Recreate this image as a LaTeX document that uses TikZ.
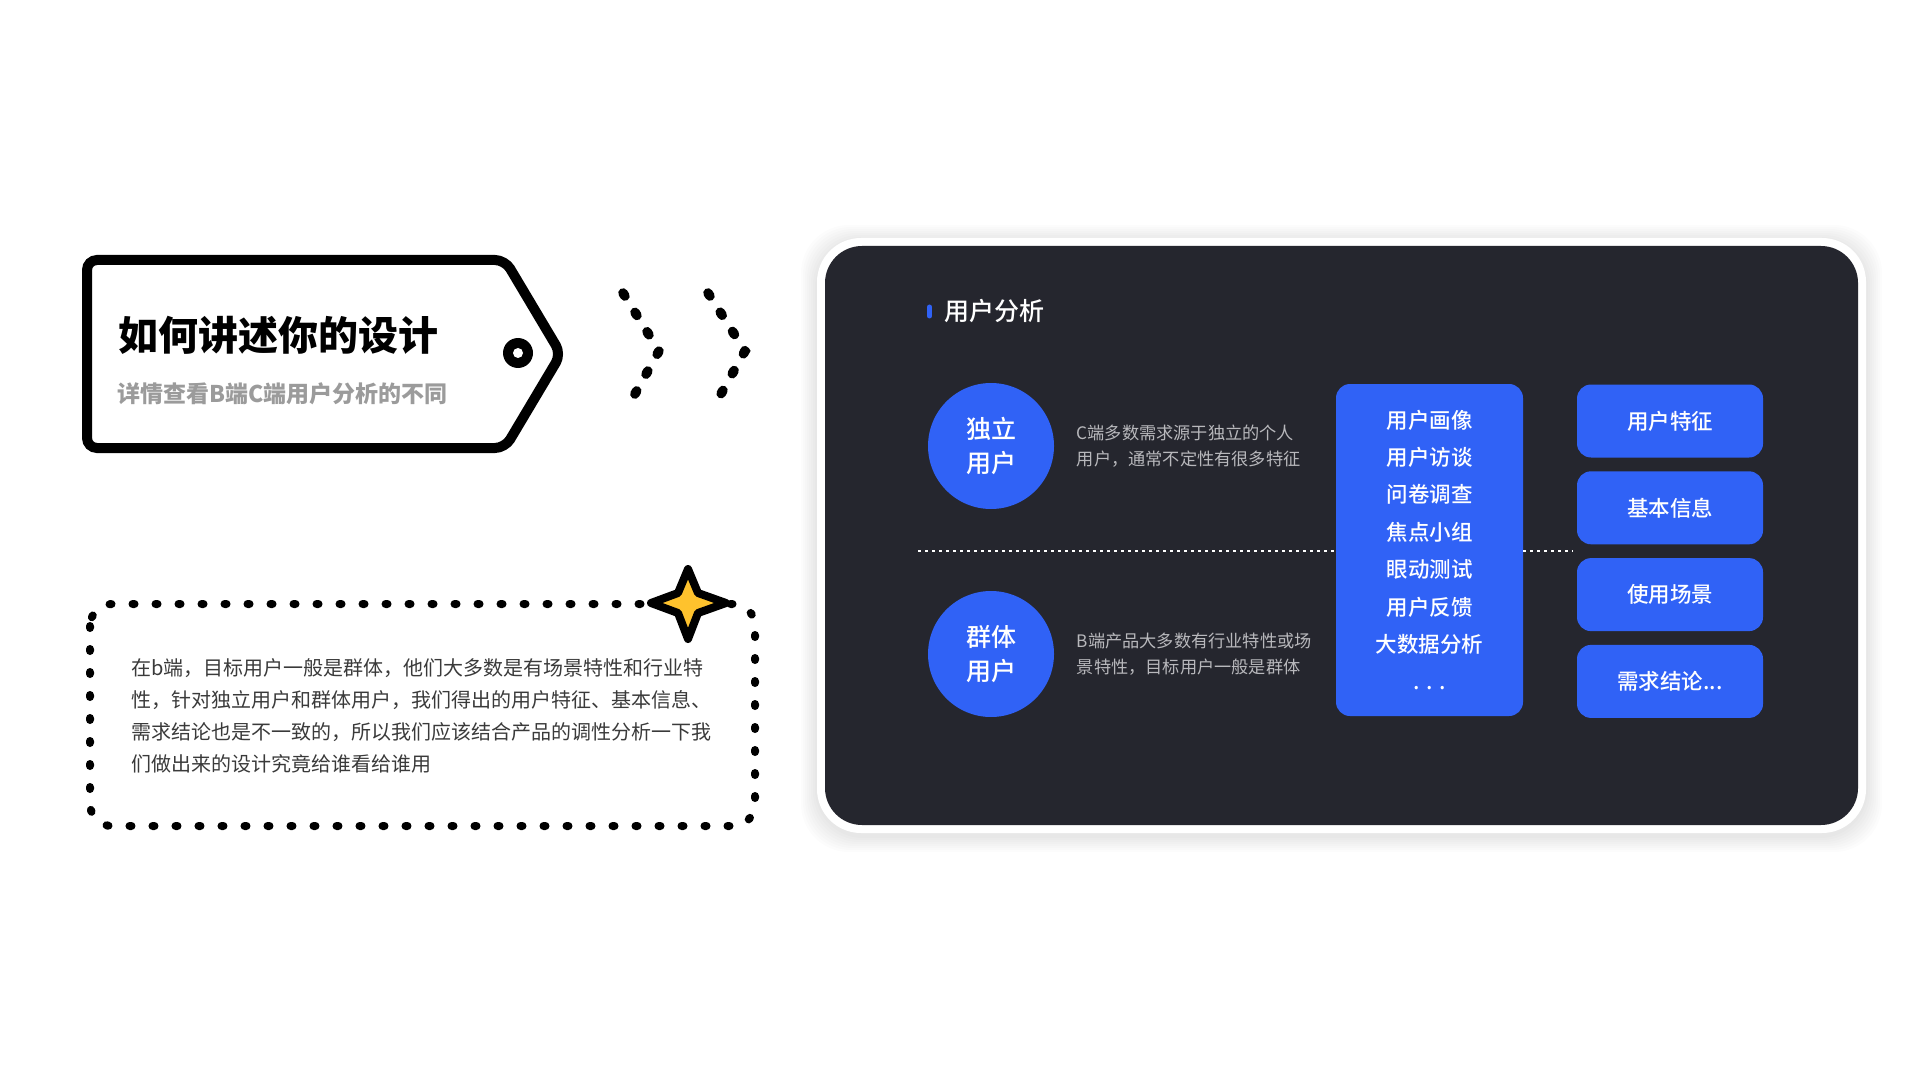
\documentclass[tikz,border=0pt]{standalone}
\usepackage{fontspec}
\setmainfont{Noto Sans CJK SC}
\newfontfamily\medfont{Noto Sans CJK SC Medium}
\usetikzlibrary{positioning}
\definecolor{panelbg}{HTML}{25262E}
\definecolor{brandblue}{HTML}{3062F6}
\definecolor{descgray}{HTML}{B8B8BC}
\definecolor{subgray}{HTML}{9B9B9B}
\definecolor{bodygray}{HTML}{3A3A3A}
\definecolor{staryellow}{HTML}{FEC22D}

\begin{document}
\begin{tikzpicture}[
        x=0.5pt, y=-0.5pt,
        node distance=6.5pt,
        usercirc/.style={circle, fill=brandblue, minimum size=63pt, inner sep=0pt, text=white, align=center, font=\medfont\fontsize{12.5}{17}\selectfont},
        desc/.style={inner sep=0pt, text=descgray, align=left, font=\fontsize{8.6}{13}\selectfont},
        traitbox/.style={fill=brandblue, rounded corners=7pt, minimum width=93pt, minimum height=36.5pt, text=white, font=\medfont\fontsize{10.75}{13}\selectfont},
        divider/.style={white, line width=1pt, dash pattern=on 1.5pt off 2pt},
        dotline/.style={line width=4.8pt, line cap=round, dash pattern=on 1.8pt off 9.6pt}
    ]
    \useasboundingbox (0,0) rectangle (1920,1080);

    % tag on the left
    \draw[line width=5pt, rounded corners=5pt] (87,260) -- (505,260) -- (561,354) -- (505,448) -- (87,448) -- cycle;
    \fill (518,353) circle (7.5pt);
    \fill[white] (518,353) circle (2.5pt);
    \node[anchor=west, inner sep=0pt, font=\bfseries\fontsize{20}{24}\selectfont] (tagtitle) at (118,335) {如何讲述你的设计};
    \node[anchor=west, inner sep=0pt, text=subgray, font=\bfseries\fontsize{11.5}{14}\selectfont] (tagsub) at (117,394) {详情查看B端C端用户分析的不同};

    % chevrons
    \draw[dotline] (623,293) -- (659,351) -- (626,410);
    \draw[dotline] (708,293) -- (745,351) -- (712,410);

    % dotted note box with star
    \draw[line width=4pt, line cap=round, dash pattern=on 1pt off 10.5pt, rounded corners=11pt] (90,604) rectangle (755,826);
    \draw[line width=4pt, line join=round, fill=staryellow] (688,569) -- (698,593) -- (726,603) -- (698,613) -- (688,639) -- (678,613) -- (651,603) -- (678,593) -- cycle;
    \node[anchor=west, inner sep=0pt, align=left, text=bodygray, font=\fontsize{10}{16}\selectfont] (note) at (131,716) {在b端，目标用户一般是群体，他们大多数是有场景特性和行业特\\性，针对独立用户和群体用户，我们得出的用户特征、基本信息、\\需求结论也是不一致的，所以我们应该结合产品的调性分析一下我\\们做出来的设计究竟给谁看给谁用};

    % dark panel
    \foreach \d in {2,4,...,16}
        \fill[black, opacity=0.01, rounded corners=24pt] (817-\d,241-\d) rectangle (1866+\d,836+\d);
    \fill[white, rounded corners=22pt] (817,238) rectangle (1866,833);
    \fill[panelbg, rounded corners=18.5pt] (825,246) rectangle (1858,825);

    \node[anchor=west, inner sep=0pt, text=white, font=\medfont\fontsize{12.5}{15}\selectfont] (ptitle) at (944,311) {用户分析};
    \draw[brandblue, line width=2.5pt, line cap=round] (929.5,307) -- (929.5,316);

    \node[usercirc] (indiv) at (991,446) {独立\\用户};
    \node[usercirc] (group) at (991,654) {群体\\用户};
    \node[desc, right=11pt of indiv] (indivdesc) {C端多数需求源于独立的个人\\用户，通常不定性有很多特征};
    \node[desc, right=11pt of group] (groupdesc) {B端产品大多数有行业特性或场\\景特性，目标用户一般是群体};

    \node[fill=brandblue, rounded corners=7pt, minimum width=93.5pt, minimum height=166pt, text=white, align=center, font=\medfont\fontsize{10.75}{18.7}\selectfont] (methods) at (1429.5,550) {用户画像\\用户访谈\\问卷调查\\焦点小组\\眼动测试\\用户反馈\\大数据分析\\. . .};

    \node[traitbox] (trait1) at (1670,421) {用户特征};
    \node[traitbox, below=of trait1] (trait2) {基本信息};
    \node[traitbox, below=of trait2] (trait3) {使用场景};
    \node[traitbox, below=of trait3] (trait4) {需求结论...};

    \coordinate (divL) at (918,551);
    \draw[divider] (divL) -- (methods.west |- divL);
    \draw[divider] (methods.east |- divL) -- ([xshift=-2pt]trait1.west |- divL);
\end{tikzpicture}
\end{document}
